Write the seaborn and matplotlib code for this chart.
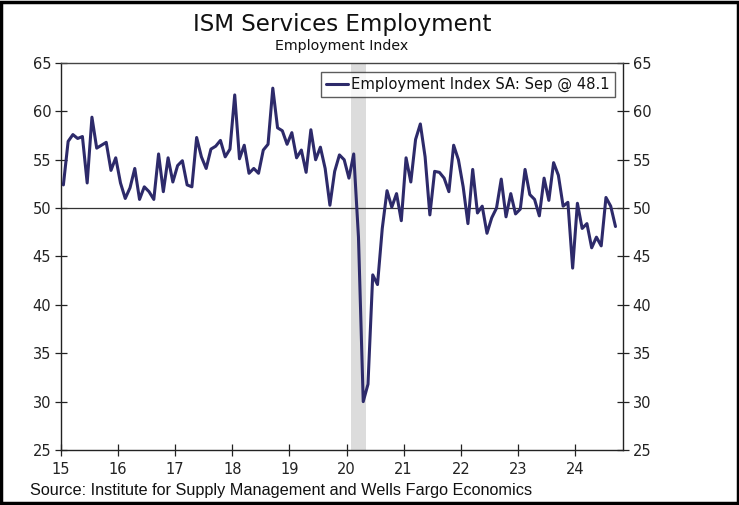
import matplotlib
matplotlib.use("Agg")
import matplotlib.pyplot as plt
import seaborn as sns
import pandas as pd
import numpy as np
from matplotlib.patches import Rectangle

# ---- data (monthly, Jan 2015 - Sep 2024) ----
start_year = 2015
v2015 = [52.4, 56.9, 57.6, 57.2, 57.4, 52.6, 59.4, 56.2, 56.5, 56.8, 53.9, 55.2]
v2016 = [52.6, 51.0, 52.1, 54.1, 50.9, 52.2, 51.7, 50.9, 55.6, 51.7, 55.2, 52.7]
v2017 = [54.4, 54.9, 52.4, 52.2, 57.3, 55.3, 54.1, 56.1, 56.4, 57.0, 55.3, 56.1]
v2018 = [61.7, 55.1, 56.5, 53.6, 54.1, 53.6, 56.0, 56.6, 62.4, 58.3, 58.0, 56.6]
v2019 = [57.8, 55.2, 56.0, 53.7, 58.1, 55.0, 56.3, 54.1, 50.3, 53.8, 55.5, 55.0]
v2020 = [53.1, 55.6, 47.0, 30.0, 31.8, 43.1, 42.1, 47.9, 51.8, 50.1, 51.5, 48.7]
v2021 = [55.2, 52.7, 57.1, 58.7, 55.3, 49.3, 53.8, 53.7, 53.1, 51.7, 56.5, 55.0]
v2022 = [52.2, 48.4, 54.0, 49.5, 50.2, 47.4, 49.0, 50.0, 53.0, 49.1, 51.5, 49.4]
v2023 = [49.9, 54.0, 51.4, 50.9, 49.2, 53.1, 50.8, 54.7, 53.4, 50.2, 50.6, 43.8]
v2024 = [50.5, 47.9, 48.4, 45.9, 47.0, 46.1, 51.1, 50.2, 48.1]

x_tick_labels = ["15", "16", "17", "18", "19", "20", "21", "22", "23", "24"]
y_ticks = [25, 30, 35, 40, 45, 50, 55, 60, 65]
recession_start = (2020, 2)   # Feb 2020
recession_end = (2020, 4)     # Apr 2020
series_label = "Employment Index SA: Sep @ 48.1"

values = v2015 + v2016 + v2017 + v2018 + v2019 + v2020 + v2021 + v2022 + v2023 + v2024
n = len(values)
# x coordinate in 2-digit years (15 = Jan 2015), mid-month
xpos = [(start_year - 2000) + (i + 0.5) / 12 for i in range(n)]
df = pd.DataFrame({"t": xpos, "value": values})

sns.set_theme(style="white")
plt.rcParams["font.family"] = ["DejaVu Sans"]

fig = plt.figure(figsize=(7.39, 5.05), dpi=100)
ax = fig.add_axes([61 / 739, 1 - 450 / 505, (623 - 61) / 739, (450 - 63) / 505])

line_color = "#2D2A6A"

# recession shading
rs = (recession_start[0] - 2000) + (recession_start[1] - 1) / 12
re = (recession_end[0] - 2000) + recession_end[1] / 12
ax.axvspan(rs, re, color="#DCDCDC", lw=0, zorder=0)

ax.axhline(50, color="#333333", lw=0.9, zorder=1)

sns.lineplot(data=df, x="t", y="value", ax=ax, color=line_color, lw=2.2,
             label=series_label, zorder=3)

ax.set_xlim(15, 24.84)
ax.set_ylim(25, 65)
ax.set_xticks([int(s) for s in x_tick_labels])
ax.set_xticklabels(x_tick_labels)
ax.set_yticks(y_ticks)
ax.set_xlabel("")
ax.set_ylabel("")

ax.tick_params(axis="both", which="both", direction="inout", length=8, width=0.9,
               color="#222222", labelsize=10.5, labelcolor="#222222",
               left=True, right=True, bottom=True, top=False,
               labelleft=True, labelright=True, pad=3)
ax.tick_params(axis="x", pad=5)
for side in ["left", "right", "bottom", "top"]:
    ax.spines[side].set_color("#222222")
    ax.spines[side].set_linewidth(1.0)
    ax.spines[side].set_visible(True)
ax.spines["top"].set_color("#444444")
ax.grid(False)

leg = ax.legend(loc="upper right", bbox_to_anchor=(0.986, 0.977), borderaxespad=0,
                frameon=True, fancybox=False, fontsize=10.6, handlelength=1.5,
                handletextpad=0.2, borderpad=0.35)
leg.get_frame().set_edgecolor("#333333")
leg.get_frame().set_linewidth(1.0)
for t in leg.get_texts():
    t.set_color("#111111")

axc = (61 + 623) / 2 / 739
fig.text(axc, 1 - 24 / 505, "ISM Services Employment", ha="center", va="center",
         fontsize=16.6, color="#111111")
fig.text(axc, 1 - 46 / 505, "Employment Index", ha="center", va="center",
         fontsize=10.2, color="#111111")
fig.text(30 / 739, 1 - 490 / 505, "Source: Institute for Supply Management and Wells Fargo Economics",
         ha="left", va="center", fontsize=11.7, family=["Liberation Sans"], color="#111111")

# figure border
fig.patches.append(Rectangle((0.002, 0.003), 0.996, 0.994, transform=fig.transFigure,
                             fill=False, edgecolor="black", linewidth=2.5))

fig.savefig("out.png", dpi=100)
